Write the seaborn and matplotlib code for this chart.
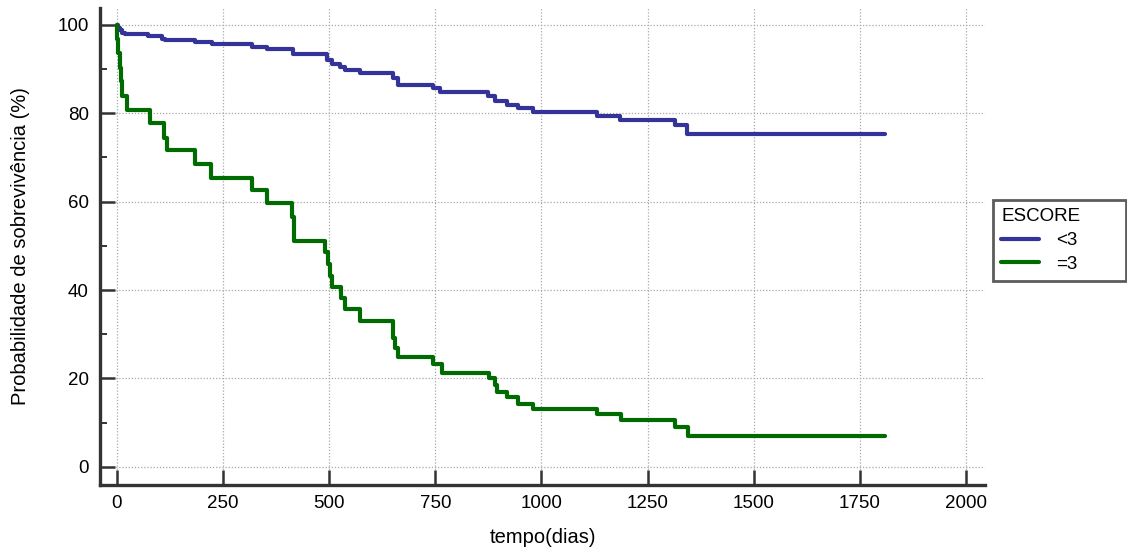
import matplotlib
matplotlib.use("Agg")
import matplotlib.pyplot as plt
import seaborn as sns
import pandas as pd
from matplotlib.ticker import MultipleLocator

# Kaplan-Meier survival estimates (time in days, survival in %)
blue_t = [0, 3, 6, 12, 18, 74, 107, 112, 183, 223, 318, 353, 415, 494, 506,
          525, 537, 572, 651, 662, 745, 762, 874, 890, 918, 945, 980, 1130,
          1185, 1315, 1343, 1810]
blue_s = [100, 99.3, 98.8, 98.2, 97.9, 97.5, 96.9, 96.5, 96.1, 95.7, 95.0,
          94.6, 93.3, 92.1, 91.1, 90.5, 89.7, 89.0, 87.9, 86.3, 85.6, 84.8,
          84.0, 82.8, 81.9, 81.2, 80.3, 79.4, 78.5, 77.3, 75.3, 75.3]

green_t = [0, 1, 3, 6, 9, 12, 23, 78, 111, 117, 184, 222, 317, 353, 413, 416,
           418, 490, 498, 503, 507, 527, 537, 572, 651, 655, 663, 745, 765,
           876, 890, 895, 919, 945, 980, 1130, 1188, 1314, 1346, 1810]
green_s = [100, 96.7, 93.6, 90.3, 87.3, 83.9, 80.8, 77.7, 74.5, 71.6, 68.5,
           65.4, 62.6, 59.6, 56.5, 53.5, 51.1, 48.6, 46.0, 43.1, 40.6, 38.1,
           35.6, 33.0, 29.1, 26.8, 24.9, 23.2, 21.3, 20.0, 18.5, 17.0, 15.7,
           14.3, 13.0, 11.9, 10.6, 9.1, 6.9, 6.9]

groups = ["<3", "=3"]
colors = {"<3": "#33339A", "=3": "#006B00"}
x_ticks = [0, 250, 500, 750, 1000, 1250, 1500, 1750, 2000]
y_ticks = [0, 20, 40, 60, 80, 100]

df = pd.concat([
    pd.DataFrame({"tempo": blue_t, "sobrev": blue_s, "ESCORE": groups[0]}),
    pd.DataFrame({"tempo": green_t, "sobrev": green_s, "ESCORE": groups[1]}),
], ignore_index=True)

sns.set_theme(style="white")
plt.rcParams["font.family"] = ["Liberation Sans", "DejaVu Sans"]
plt.rcParams["text.color"] = "black"
plt.rcParams["axes.labelcolor"] = "black"

fig = plt.figure(figsize=(11.27, 5.47), dpi=100)
ax = fig.add_axes([100 / 1127, 1 - 485 / 547, 885 / 1127, 477 / 547])

sns.lineplot(data=df, x="tempo", y="sobrev", hue="ESCORE", hue_order=groups,
             palette=colors, estimator=None, drawstyle="steps-post",
             linewidth=3.0, ax=ax, legend=False)

ax.set_xlim(-40, 2045)
ax.set_ylim(-4.1, 103.8)
ax.set_xticks(x_ticks)
ax.set_yticks(y_ticks)
ax.yaxis.set_minor_locator(MultipleLocator(10))
ax.grid(True, which="major", linestyle=(0, (1, 1.5)), color="#a8a8a8",
        linewidth=0.9)

for side in ["top", "right"]:
    ax.spines[side].set_visible(False)
for side in ["left", "bottom"]:
    ax.spines[side].set_color("#333333")
    ax.spines[side].set_linewidth(2.4)

ax.tick_params(axis="both", which="major", direction="in", length=11,
               width=1.8, color="#333333", labelsize=13.5, labelcolor="black",
               bottom=True, left=True)
ax.tick_params(axis="y", which="major", pad=8)
ax.tick_params(axis="x", which="major", pad=7)
ax.tick_params(axis="y", which="minor", direction="in", length=5,
               width=1.4, color="#333333", left=True)

ax.set_xlabel("tempo(dias)", fontsize=14.5, labelpad=12)
ax.set_ylabel("Probabilidade de sobrevivência (%)", fontsize=14.5,
              labelpad=20)

handles = [plt.Line2D([], [], color=colors[g], linewidth=3.0) for g in groups]
leg = fig.legend(handles, groups, title="ESCORE", loc="upper left",
                 bbox_to_anchor=(993 / 1127, 1 - 289 / 547, 133 / 1127,
                                 89 / 547),
                 mode="expand", borderaxespad=0, fontsize=13.5,
                 title_fontsize=13.5, frameon=True, fancybox=False,
                 handlelength=2.0, handletextpad=0.9, borderpad=0.45,
                 labelspacing=0.35)
leg._legend_box.align = "left"
frame = leg.get_frame()
frame.set_edgecolor("#333333")
frame.set_linewidth(2.0)
frame.set_facecolor("white")

fig.savefig("out.png", dpi=100, facecolor="white")
